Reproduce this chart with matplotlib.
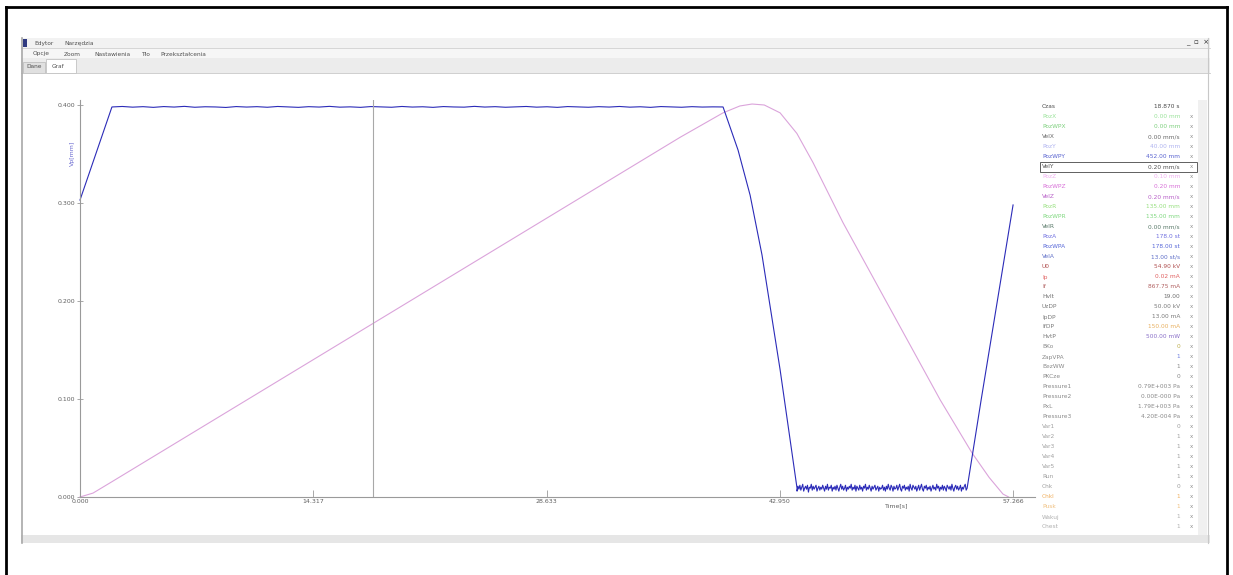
import numpy as np
import matplotlib
matplotlib.use("Agg")
import matplotlib.pyplot as plt
from matplotlib.patches import Rectangle

# ---- data ----
t_end = 57.266
x_ticks = [0.0, 14.317, 28.633, 42.950, 57.266]
y_ticks = [0.0, 0.1, 0.2, 0.3, 0.4]
cursor_t = 17.98

# blue trace (velocity), split in segments
ramp_t = [0.0, 1.96]
ramp_v = [0.303, 0.398]
top_v = [0.3980, 0.3985, 0.3978, 0.3983, 0.3976, 0.3984, 0.3979, 0.3986, 0.3977, 0.3982,
         0.3980, 0.3975, 0.3984, 0.3979, 0.3983, 0.3977, 0.3985, 0.3980, 0.3976, 0.3983,
         0.3979, 0.3986, 0.3978, 0.3981, 0.3976, 0.3984, 0.3980, 0.3977, 0.3985, 0.3979,
         0.3982, 0.3976, 0.3984, 0.3980, 0.3978, 0.3986, 0.3979, 0.3983, 0.3977, 0.3981,
         0.3985, 0.3978, 0.3982, 0.3976, 0.3984, 0.3980, 0.3977, 0.3983, 0.3979, 0.3985,
         0.3978, 0.3982, 0.3976, 0.3984, 0.3980, 0.3977, 0.3983, 0.3979, 0.3981, 0.3980]
drop_t = [39.47, 40.39, 41.13, 41.86, 42.97, 44.01]
drop_v = [0.398, 0.354, 0.308, 0.247, 0.130, 0.009]
bottom_v = [0.006, 0.011, 0.008, 0.012, 0.007, 0.010, 0.013, 0.006, 0.009, 0.011,
            0.008, 0.012, 0.005, 0.010, 0.009, 0.013, 0.007, 0.011, 0.008, 0.010,
            0.012, 0.006, 0.009, 0.011, 0.007, 0.010, 0.008, 0.012, 0.009, 0.006,
            0.011, 0.008, 0.013, 0.007, 0.010, 0.009, 0.012, 0.006, 0.010, 0.008,
            0.011, 0.007, 0.012, 0.009, 0.006, 0.010, 0.013, 0.008, 0.011, 0.007,
            0.009, 0.012, 0.006, 0.010, 0.008, 0.011, 0.009, 0.013, 0.007, 0.010,
            0.008, 0.012, 0.006, 0.011, 0.009, 0.007, 0.012, 0.008, 0.010, 0.006,
            0.011, 0.009, 0.013, 0.007, 0.010, 0.008, 0.012, 0.009, 0.006, 0.011,
            0.008, 0.010, 0.012, 0.007, 0.009, 0.011, 0.006, 0.010, 0.008, 0.009,
            0.012, 0.007, 0.010, 0.006, 0.011, 0.008, 0.013, 0.009, 0.007, 0.012,
            0.010, 0.006, 0.011, 0.008, 0.009, 0.012, 0.007, 0.010, 0.013, 0.008,
            0.006, 0.011, 0.009, 0.012, 0.007, 0.010, 0.008, 0.011, 0.006, 0.013,
            0.009, 0.007, 0.012, 0.010, 0.008, 0.011, 0.006, 0.009, 0.012, 0.007,
            0.010, 0.013, 0.008, 0.006, 0.011, 0.009, 0.012, 0.007, 0.010, 0.008,
            0.011, 0.006, 0.009, 0.012, 0.008, 0.010, 0.007, 0.013, 0.009, 0.011,
            0.006, 0.010, 0.008, 0.012, 0.007, 0.011, 0.009, 0.006, 0.012, 0.010,
            0.008, 0.011, 0.007, 0.013, 0.009, 0.006, 0.010, 0.012, 0.008, 0.011,
            0.007, 0.009, 0.012, 0.006, 0.010, 0.008, 0.011, 0.013, 0.007, 0.009]
rise_t = [54.45, 55.31, 57.27]
rise_v = [0.009, 0.099, 0.298]

# pink trace (position)
pos_t = [0.0, 0.8, 2.0, 36.83, 39.47, 40.5, 41.25, 42.0, 42.97, 44.0, 45.0,
         46.83, 52.8, 54.75, 55.8, 56.65, 57.0]
pos_v = [0.0, 0.004, 0.016, 0.367, 0.392, 0.399, 0.401, 0.400, 0.392, 0.371,
         0.341, 0.280, 0.099, 0.045, 0.020, 0.003, 0.0]

# parameter panel
param_names = ["Czas", "PozX", "PozWPX", "VelX", "PozY", "PozWPY", "VelY", "PozZ",
               "PozWPZ", "VelZ", "PozR", "PozWPR", "VelR", "PozA", "PozWPA", "VelA",
               "U0", "Ip", "If", "Hvlt", "UzDP", "IpDP", "IfDP", "HvtP", "BKo",
               "ZapVPA", "BezWW", "PKCze", "Pressure1", "Pressure2", "PxL",
               "Pressure3", "Var1", "Var2", "Var3", "Var4", "Var5", "Run", "Chk",
               "Chkl", "Pusk", "Wakuj", "Chest"]
param_values = ["18.870 s", "0.00 mm", "0.00 mm", "0.00 mm/s", "40.00 mm",
                "452.00 mm", "0.20 mm/s", "0.10 mm", "0.20 mm", "0.20 mm/s",
                "135.00 mm", "135.00 mm", "0.00 mm/s", "178.0 st", "178.00 st",
                "13.00 st/s", "54.90 kV", "0.02 mA", "867.75 mA", "19.00",
                "50.00 kV", "13.00 mA", "150.00 mA", "500.00 mW", "0", "1", "1",
                "0", "0.79E+003 Pa", "0.00E-000 Pa", "1.79E+003 Pa",
                "4.20E-004 Pa", "0", "1", "1", "1", "1", "1", "0", "1", "1", "1",
                "1"]

# ---- styles ----
name_colors = ["#4a4a4a", "#9be39b", "#7fd07f", "#6a6a6a", "#b0b4f0", "#5a64d0",
               "#555555", "#f0b0f0", "#d870d8", "#b860c8", "#98e080", "#80d880",
               "#5a7a6a", "#7070e0", "#5868d8", "#6070c8", "#b05050", "#e06060",
               "#b06060", "#707070", "#7a7a7a", "#7a7a7a", "#7a7a7a", "#7a7a7a",
               "#8a8a8a", "#8a8a8a", "#8a8a8a", "#8a8a8a", "#8a8a8a", "#8a8a8a",
               "#8a8a8a", "#8a8a8a", "#a0a0a0", "#a0a0a0", "#a0a0a0", "#a0a0a0",
               "#a0a0a0", "#a0a0a0", "#a0a0a0", "#f0b060", "#f0c080", "#b0b0b0",
               "#b0b0b0"]
value_colors = list(name_colors)
value_colors[22] = "#e8b060"
value_colors[23] = "#8a70c8"
value_colors[24] = "#c0b050"
value_colors[25] = "#7080e0"

W, H = 1233, 575
fig = plt.figure(figsize=(W / 100, H / 100), dpi=100)
fig.patch.set_facecolor("white")

# overlay axes in pixel coordinates for the window chrome
ov = fig.add_axes([0, 0, 1, 1])
ov.set_xlim(0, W)
ov.set_ylim(H, 0)
ov.axis("off")

# outer black frame
ov.plot([6, 6], [7, H], color="black", lw=2)
ov.plot([6, 1227], [7, 7], color="black", lw=2)
ov.plot([1227, 1227], [7, H], color="black", lw=2)

# window chrome
ov.add_patch(Rectangle((21, 38), 1189, 10, fc="#f2f2f2", ec="none"))
ov.add_patch(Rectangle((21, 48), 1189, 10, fc="#f6f6f6", ec="none"))
ov.add_patch(Rectangle((21, 58), 1189, 15, fc="#ececec", ec="none"))
ov.plot([21, 1210], [48, 48], color="#d0d0d0", lw=0.6)
ov.plot([21, 1210], [73, 73], color="#c8c8c8", lw=0.6)
ov.add_patch(Rectangle((23, 62), 22, 11, fc="#e0e0e0", ec="#b8b8b8", lw=0.5))
ov.add_patch(Rectangle((46, 59), 30, 14, fc="white", ec="#b8b8b8", lw=0.5))
ov.add_patch(Rectangle((21, 535), 1189, 8, fc="#e6e6e6", ec="none"))
ov.plot([22, 22], [38, 543], color="#a8a8a8", lw=1.2)
ov.plot([1208, 1208], [38, 543], color="#c8c8c8", lw=0.8)
ov.add_patch(Rectangle((1198, 100), 9, 435, fc="#f0f0f0", ec="none"))
ov.add_patch(Rectangle((23, 39), 4, 8, fc="#303a80", ec="none"))

small = dict(fontsize=4.2, color="#505050", va="center")
ov.text(34, 43, "Edytor", **small)
ov.text(64, 43, "Narzędzia", **small)
ov.text(1186, 43, "_  ▫  ×", fontsize=5, color="#303030", va="center")
for x, s in [(33, "Opcje"), (64, "Zoom"), (94, "Nastawienia"), (141, "Tło"),
             (160, "Przekształcenia")]:
    ov.text(x, 54, s, **small)
ov.text(26, 67, "Dane", **small)
ov.text(52, 66, "Graf", **small)

# plot axes
left_px, right_px, top_px, bot_px = 80, 1013, 100, 497
ax = fig.add_axes([left_px / W, (H - bot_px) / H, (right_px - left_px) / W,
                   (bot_px - top_px) / H])
ax.patch.set_alpha(0)
ax.set_xlim(0, t_end)
ax.set_ylim(0, 0.4 + 0.1 * (497 - 100 - 392) / 98)

top_t = np.linspace(ramp_t[-1], drop_t[0], len(top_v))
bottom_t = np.linspace(drop_t[-1], rise_t[0], len(bottom_v))
vel_t = np.concatenate([ramp_t, top_t, drop_t, bottom_t, rise_t])
vel_v = np.concatenate([ramp_v, top_v, drop_v, bottom_v, rise_v])

ax.plot(pos_t, pos_v, color="#dba4db", lw=0.8, clip_on=False)
ax.plot(vel_t, vel_v, color="#2b2bb8", lw=0.8, clip_on=False)
ax.axvline(cursor_t, color="#a8a8a8", lw=0.8)

for s in ["top", "right"]:
    ax.spines[s].set_visible(False)
for s in ["left", "bottom"]:
    ax.spines[s].set_color("#9a9a9a")
    ax.spines[s].set_linewidth(0.8)
ax.set_xticks(x_ticks)
ax.set_xticklabels(["%.3f" % v for v in x_ticks])
ax.set_yticks(y_ticks)
ax.set_yticklabels(["%.3f" % v for v in y_ticks])
ax.tick_params(axis="x", direction="in", length=5, width=0.6, colors="#9a9a9a",
               labelsize=4.5, labelcolor="#606060", pad=1.5)
ax.tick_params(axis="y", direction="inout", length=5, width=0.6, colors="#9a9a9a",
               labelsize=4.5, labelcolor="#606060", pad=1)
ax.text(50.15, -0.006, "Time[s]", fontsize=4.5, color="#606060", ha="center",
        va="top")
ov.plot([right_px, 1035], [bot_px, bot_px], color="#9a9a9a", lw=0.8)
ov.text(72, 153, "Vp[mm]", fontsize=4.5, color="#6a6ad0", rotation=90,
        ha="center", va="center")

# parameter panel on the right
for i, (n, v) in enumerate(zip(param_names, param_values)):
    y = 107 + i * 10
    ov.text(1042, y, n, fontsize=4.2, color=name_colors[i], va="center")
    ov.text(1180, y, v, fontsize=4.2, color=value_colors[i], va="center",
            ha="right")
    if i > 0:
        ov.text(1190, y, "x", fontsize=4.0, color="#909090", va="center")
ov.add_patch(Rectangle((1040, 107 + 6 * 10 - 5), 157, 10, fc="none",
                       ec="#606060", lw=0.7))

fig.savefig("out.png", dpi=100)
